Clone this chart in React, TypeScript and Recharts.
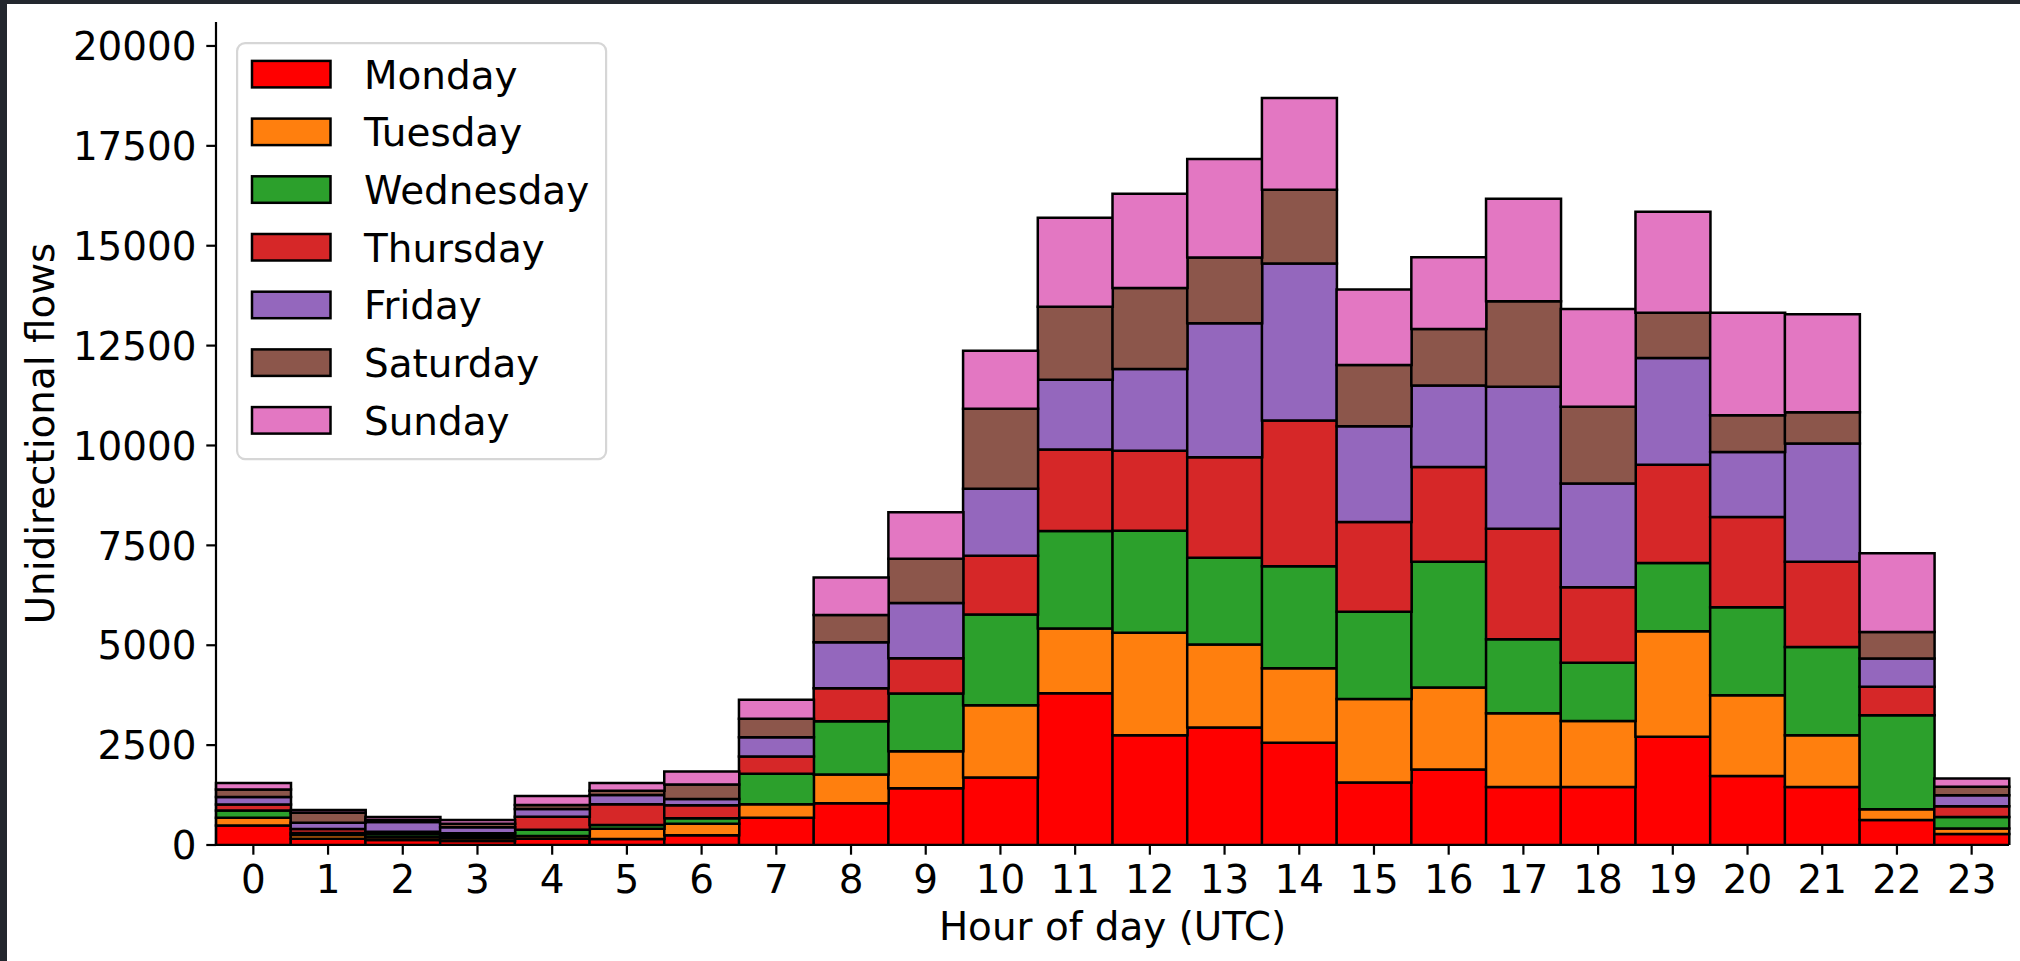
import React from 'react';
import { BarChart, Bar, XAxis, YAxis, Legend } from 'recharts';

const hours = ['0','1','2','3','4','5','6','7','8','9','10','11','12','13','14','15','16','17','18','19','20','21','22','23'];

const monday = [490,158,125,100,158,150,242,683,1045,1420,1690,3800,2745,2941,2560,1566,1888,1450,1450,2711,1728,1450,628,275];
const tuesday = [190,92,70,70,67,258,291,334,720,925,1807,1622,2566,2075,1867,2087,2052,1848,1656,2639,2019,1294,267,139];
const wednesday = [185,50,75,60,158,92,134,766,1330,1450,2270,2435,2554,2173,2553,2185,3152,1849,1453,1710,2201,2211,2350,289];
const thursday = [150,100,63,62,325,517,325,434,827,881,1472,2044,2001,2517,3648,2248,2371,2767,1891,2457,2265,2137,716,267];
const friday = [185,158,242,150,192,233,158,483,1153,1381,1681,1745,2051,3353,3929,2394,2041,3558,2596,2670,1624,2958,705,278];
const saturday = [190,250,50,91,100,108,367,458,683,1109,1999,1824,2026,1646,1842,1535,1410,2136,1923,1133,919,781,663,212];
const sunday = [165,67,75,92,225,192,325,475,935,1164,1454,2230,2357,2467,2301,1891,1795,2565,2447,2532,2564,2457,1976,204];

const seriesNames = ['Monday','Tuesday','Wednesday','Thursday','Friday','Saturday','Sunday'];
const seriesColors = ['#ff0000','#ff7f0e','#2ca02c','#d62728','#9467bd','#8c564b','#e377c2'];
const seriesValues = [monday, tuesday, wednesday, thursday, friday, saturday, sunday];

const yTicks = [0,2500,5000,7500,10000,12500,15000,17500,20000];
const yDomain: [number, number] = [0, 20600];

const xLabel = 'Hour of day (UTC)';
const yLabel = 'Unidirectional flows';

const data = hours.map((h, i) => {
  const row: Record<string, string | number> = { hour: h };
  seriesNames.forEach((n, k) => { row[n] = seriesValues[k][i]; });
  return row;
});

const FONT = 'DejaVu Sans';
const FS = 38.9;

const YTick = (props: any) => {
  const { x, y, payload } = props;
  return (
    <text x={x} y={y + 14.2} textAnchor="end" fontFamily={FONT} fontSize={FS} fill="#000">
      {payload.value}
    </text>
  );
};

const XTick = (props: any) => {
  const { x, y, payload } = props;
  return (
    <text x={x} y={y + 28.4} textAnchor="middle" fontFamily={FONT} fontSize={FS} fill="#000">
      {payload.value}
    </text>
  );
};

const YLabel = (props: any) => {
  const vb = props.viewBox || { x: 0, y: 22, width: 216, height: 823 };
  const cx = 54;
  const cy = vb.y + vb.height / 2;
  return (
    <text x={cx} y={cy} transform={`rotate(-90 ${cx} ${cy})`} textAnchor="middle" fontFamily={FONT} fontSize={FS} fill="#000">
      {yLabel}
    </text>
  );
};

const XLabel = (props: any) => {
  const vb = props.viewBox || { x: 216, y: 845, width: 1793, height: 116 };
  const cx = vb.x + vb.width / 2;
  const cy = vb.y + 95;
  return (
    <text x={cx} y={cy} textAnchor="middle" fontFamily={FONT} fontSize={FS} fill="#000">
      {xLabel}
    </text>
  );
};

const LegendBox = () => (
  <svg width={372} height={420} style={{ display: 'block', overflow: 'visible' }}>
    <rect x={1.1} y={1.1} width={369} height={416} rx={8} ry={8} fill="#ffffff" fillOpacity={0.8} stroke="#d6d6d6" strokeWidth={2.2} />
    {seriesNames.map((n, i) => (
      <g key={n}>
        <rect x={16} y={18.9 + 57.7 * i} width={78.5} height={26.5} fill={seriesColors[i]} stroke="#000" strokeWidth={2.5} />
        <text x={128} y={46.6 + 57.7 * i} fontFamily={FONT} fontSize={FS} fill="#000">{n}</text>
      </g>
    ))}
  </svg>
);

export default function App() {
  return (
    <div style={{ position: 'absolute', left: 0, top: 0, width: 2020, height: 961, background: '#ffffff', overflow: 'hidden' }}>
      <BarChart
        width={2020}
        height={961}
        data={data}
        margin={{ top: 22, right: 11, bottom: 0, left: 0 }}
        barCategoryGap={0}
        barGap={0}
      >
        <XAxis
          dataKey="hour"
          height={116}
          interval={0}
          tickSize={9.7}
          tickMargin={9.7}
          tick={<XTick />}
          tickLine={{ stroke: '#000', strokeWidth: 2.2 }}
          axisLine={{ stroke: '#000', strokeWidth: 2.2 }}
          label={<XLabel />}
        />
        <XAxis
          xAxisId="top"
          dataKey="hour"
          orientation="top"
          height={0}
          tick={false}
          tickLine={false}
          axisLine={{ stroke: '#000', strokeWidth: 2.2 }}
        />
        <YAxis
          type="number"
          width={216}
          domain={yDomain}
          ticks={yTicks}
          interval={0}
          allowDataOverflow
          tickSize={9.7}
          tickMargin={9.7}
          tick={<YTick />}
          tickLine={{ stroke: '#000', strokeWidth: 2.2 }}
          axisLine={{ stroke: '#000', strokeWidth: 2.2 }}
          label={<YLabel />}
        />
        <YAxis
          yAxisId="right"
          orientation="right"
          width={0}
          domain={yDomain}
          tick={false}
          tickLine={false}
          axisLine={{ stroke: '#000', strokeWidth: 2.2 }}
        />
        {seriesNames.map((n, i) => (
          <Bar
            key={n}
            dataKey={n}
            stackId="days"
            fill={seriesColors[i]}
            stroke="#000"
            strokeWidth={2.5}
            isAnimationActive={false}
          />
        ))}
        <Legend
          layout="vertical"
          align="center"
          verticalAlign="middle"
          content={<LegendBox />}
          wrapperStyle={{ left: 236, top: 42, width: 372, height: 420 }}
        />
      </BarChart>
      <div style={{ position: 'absolute', left: 0, top: 0, width: 7, height: 961, background: '#23272e' }} />
      <div style={{ position: 'absolute', left: 0, top: 0, width: 2020, height: 4, background: '#23272e' }} />
    </div>
  );
}
